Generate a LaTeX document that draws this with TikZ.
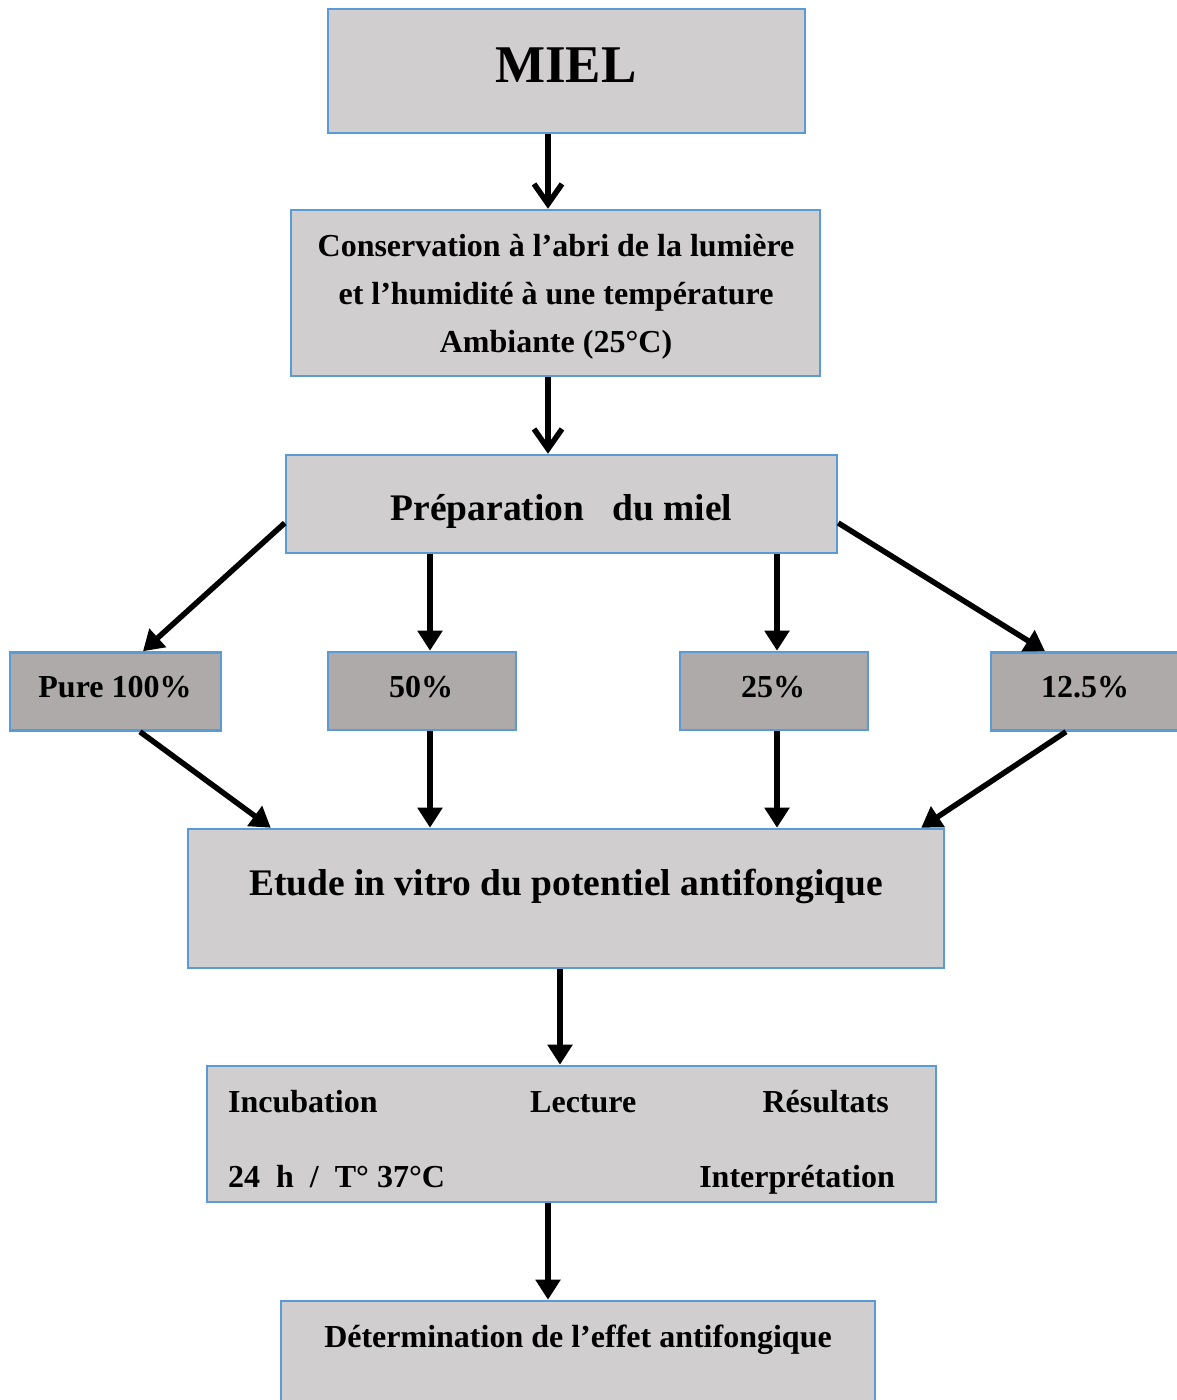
\documentclass[tikz,border=0pt]{standalone}
\usepackage{fontspec}
\setmainfont{Liberation Serif}
\usetikzlibrary{arrows.meta}
\definecolor{boxfill}{HTML}{D0CECE}
\definecolor{darkfill}{HTML}{AEAAAA}
\definecolor{boxline}{HTML}{5B9BD5}
\tikzset{
  box/.style={draw=boxline, line width=2.5pt, fill=boxfill, inner sep=0pt, minimum width=#1},
  dbox/.style={draw=boxline, line width=2.5pt, fill=darkfill, inner sep=0pt, minimum width=#1, minimum height=78pt},
  txt/.style={inner sep=0pt, font=\bfseries\fontsize{32}{48}\selectfont},
  bigtxt/.style={inner sep=0pt, font=\bfseries\fontsize{37.5}{44}\selectfont},
  arr/.style={line width=5.5pt, -{Triangle[length=20pt,width=24pt]}},
  openarr/.style={line width=5.5pt, -{Straight Barb[length=20pt,width=28pt]}}
}
\begin{document}
\begin{tikzpicture}[x=1pt,y=1pt]
\useasboundingbox (0,0) rectangle (1177,1400);
\clip (0,0) rectangle (1177,1400);
% boxes
\node[box=477pt, minimum height=124pt] (miel) at (566.5,1329) {};
\node[box=529pt, minimum height=166pt] (cons) at (555.5,1107) {};
\node[box=551pt, minimum height=98pt] (prep) at (561.5,896) {};
\node[dbox=211pt] (pure) at (115.5,708.5) {};
\node[dbox=188pt] (p50) at (422,709) {};
\node[dbox=188pt] (p25) at (774,709) {};
\node[dbox=188pt] (p125) at (1085,708.5) {};
\node[box=756pt, minimum height=139pt] (etude) at (566,501.5) {};
\node[box=729pt, minimum height=136pt] (inc) at (571.5,266) {};
\node[box=594pt, minimum height=130pt] (det) at (578,34) {};
% labels
\node[inner sep=0pt, anchor=base, font=\bfseries\fontsize{53}{60}\selectfont] (tmiel) at (566,1317) {MIEL};
\node[txt, align=center, anchor=center] (tcons) at (556,1103.5) {Conservation à l’abri de la lumière\\et l’humidité à une température\\Ambiante (25°C)};
\node[bigtxt, anchor=base] (tprep) at (561.5,879) {Préparation\ \ \ du miel};
\node[txt, anchor=base] (tpure) at (115,702) {Pure 100\%};
\node[txt, anchor=base] (t50) at (421,702) {50\%};
\node[txt, anchor=base] (t25) at (773,702) {25\%};
\node[txt, anchor=base] (t125) at (1085,702) {12.5\%};
\node[bigtxt, anchor=base] (tetude) at (566,504) {Etude in vitro du potentiel antifongique};
\node[txt, anchor=base west] (tincu) at (228,287) {Incubation};
\node[txt, anchor=base west] (tlect) at (530,287) {Lecture};
\node[txt, anchor=base east] (tres) at (889,287) {Résultats};
\node[txt, anchor=base west] (tcond) at (228,212) {24\ \ h\ \ /\ \ T° 37°C};
\node[txt, anchor=base east] (tint) at (895,212) {Interprétation};
\node[txt, anchor=base] (tdet) at (578,52) {Détermination de l’effet antifongique};
% arrows
\draw[openarr] ([xshift=-18.5pt]miel.south) -- ([xshift=-18.5pt]miel.south |- cons.north);
\draw[openarr] ([xshift=-7.5pt]cons.south) -- ([xshift=-7.5pt]cons.south |- prep.north);
\draw[arr] ([yshift=-19pt]prep.west) -- ([xshift=27.5pt]pure.north);
\draw[arr] ([xshift=8pt]p50.north |- prep.south) -- ([xshift=8pt]p50.north);
\draw[arr] ([xshift=3pt]p25.north |- prep.south) -- ([xshift=3pt]p25.north);
\draw[arr] ([yshift=-19pt]prep.east) -- ([xshift=-40pt]p125.north);
\draw[arr] ([xshift=24.5pt]pure.south) -- ([xshift=84pt]etude.north west);
\draw[arr] ([xshift=8pt]p50.south) -- ([xshift=8pt]p50.south |- etude.north);
\draw[arr] ([xshift=3pt]p25.south) -- ([xshift=3pt]p25.south |- etude.north);
\draw[arr] ([xshift=-19pt]p125.south) -- ([xshift=-24pt]etude.north east);
\draw[arr] ([xshift=-6pt]etude.south) -- ([xshift=-6pt]etude.south |- inc.north);
\draw[arr] ([xshift=-23.5pt]inc.south) -- ([xshift=-23.5pt]inc.south |- det.north);
\end{tikzpicture}
\end{document}
